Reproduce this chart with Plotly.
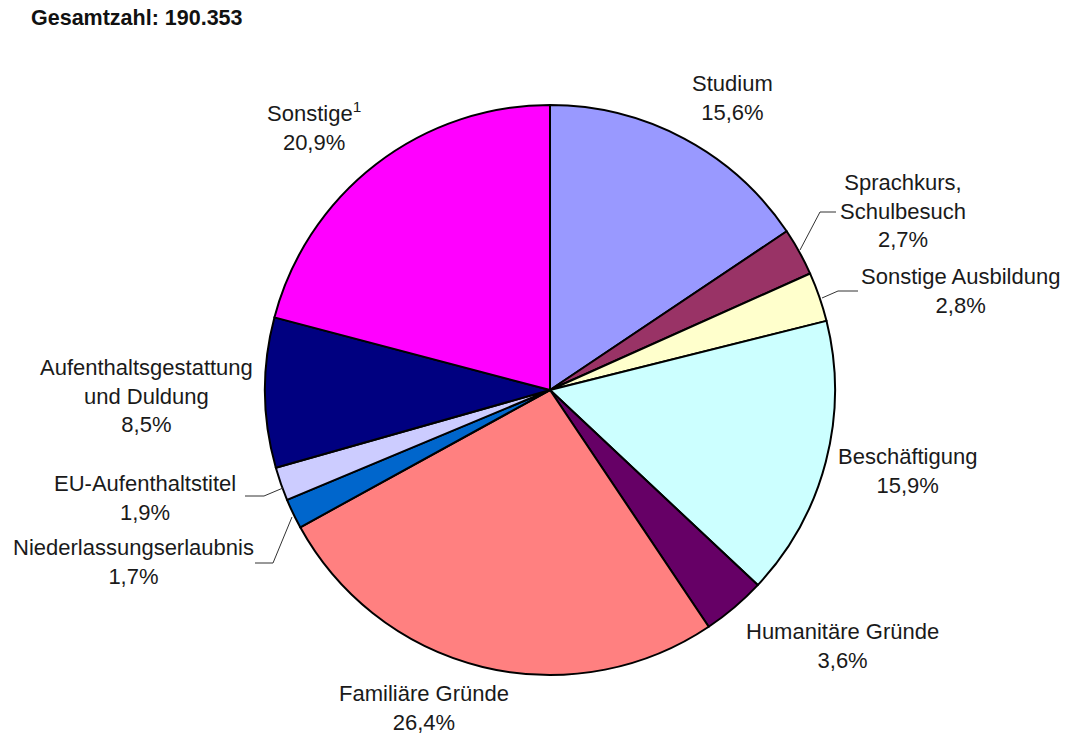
import plotly.graph_objects as go

W, H = 1065, 736

categories = [
    "Studium", "Sprachkurs, Schulbesuch", "Sonstige Ausbildung", "Beschäftigung",
    "Humanitäre Gründe", "Familiäre Gründe", "Niederlassungserlaubnis",
    "EU-Aufenthaltstitel", "Aufenthaltsgestattung und Duldung", "Sonstige",
]
values = [15.6, 2.7, 2.8, 15.9, 3.6, 26.4, 1.7, 1.9, 8.5, 20.9]
label_texts = [
    "Studium", "Sprachkurs,<br>Schulbesuch", "Sonstige Ausbildung", "Beschäftigung",
    "Humanitäre Gründe", "Familiäre Gründe", "Niederlassungserlaubnis",
    "EU-Aufenthaltstitel", "Aufenthaltsgestattung<br>und Duldung", "Sonstige<sup>1</sup>",
]
colors = ["#9999FF", "#993366", "#FFFFCC", "#CCFFFF", "#660066",
          "#FF8080", "#0066CC", "#CCCCFF", "#000080", "#FF00FF"]
total_text = "Gesamtzahl: 190.353"

# label block centres in pixels (layout only)
label_pos = [(732, 98), (903, 211), (960, 291), (907, 471), (843, 646),
             (424, 708), (133, 562), (145, 498), (146, 396), (314, 127)]

def px(x):
    return x / W

def py(y):
    return 1 - y / H

cx, cy, r = 550, 390, 285
FONT = "Liberation Sans, Arial, sans-serif"

fig = go.Figure(go.Pie(
    labels=categories, values=values, sort=False, direction="clockwise", rotation=0,
    marker=dict(colors=colors, line=dict(color="black", width=2)),
    textinfo="none", hoverinfo="label+percent", showlegend=False,
    domain=dict(x=[px(cx - r), px(cx + r)], y=[py(cy + r), py(cy - r)]),
))

annotations = []
for txt, v, (x, y) in zip(label_texts, values, label_pos):
    annotations.append(dict(
        text=f"{txt}<br>{str(v).replace('.', ',')}%", x=px(x), y=py(y),
        xref="paper", yref="paper", xanchor="center", yanchor="middle",
        showarrow=False, align="center",
        font=dict(family=FONT, size=22, color="#1a1a1a"),
    ))
annotations.append(dict(
    text=f"<b>{total_text}</b>", x=px(29), y=py(18), xref="paper", yref="paper",
    xanchor="left", yanchor="middle", showarrow=False,
    font=dict(family=FONT, size=21.5, color="#111111"),
))

leaders = [
    [(800, 250), (820, 212), (836, 212)],
    [(822, 298), (838, 291), (858, 291)],
    [(283, 488), (264, 496), (245, 496)],
    [(292, 517), (273, 563), (255, 563)],
]
shapes = []
for pts in leaders:
    path = "M " + " L ".join(f"{px(a)},{py(b)}" for a, b in pts)
    shapes.append(dict(type="path", path=path, xref="paper", yref="paper",
                       line=dict(color="#333333", width=1)))

fig.update_layout(
    width=W, height=H, margin=dict(l=0, r=0, t=0, b=0),
    paper_bgcolor="white", plot_bgcolor="white",
    annotations=annotations, shapes=shapes,
)

fig.write_html(
    "out.html",
    config={"displayModeBar": False},
    post_script="document.body.style.margin='0';document.body.style.overflow='hidden';",
)
